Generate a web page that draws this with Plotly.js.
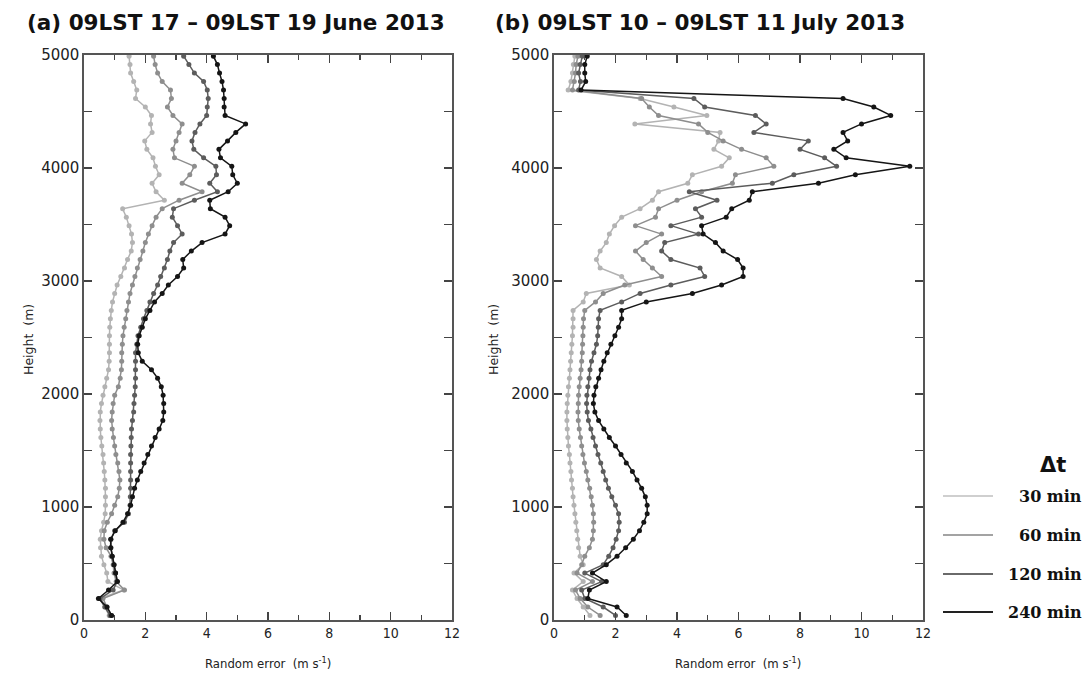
<!DOCTYPE html>
<html>
<head>
<meta charset="utf-8">
<script src="https://cdn.plot.ly/plotly-3.0.1.min.js"></script>
<style>html,body{margin:0;padding:0;background:#fff;} #chart{width:1091px;height:676px;}</style>
</head>
<body>
<div id="chart"></div>
<script>
// Heights (m), from top to bottom
const heights = [4990,4915,4840,4765,4690,4615,4540,4465,4390,4315,4240,4165,4090,4015,3940,3865,3790,3715,3640,3565,3490,3415,3340,3265,3190,3115,3040,2965,2890,2815,2740,2665,2590,2515,2440,2365,2290,2215,2140,2065,1990,1915,1840,1765,1690,1615,1540,1465,1390,1315,1240,1165,1090,1015,940,865,790,715,640,565,490,415,340,265,190,115,40];

// Panel (a): 09LST 17 - 09LST 19 June 2013, random error (m/s)
const a30 = [1.47,1.5,1.52,1.62,1.72,1.68,2.0,2.2,2.17,2.22,1.98,2.05,2.25,2.33,2.45,2.22,2.35,2.62,1.26,1.38,1.47,1.55,1.58,1.54,1.42,1.32,1.2,1.08,1.0,0.93,0.89,0.86,0.84,0.83,0.83,0.83,0.82,0.8,0.74,0.68,0.62,0.57,0.53,0.52,0.53,0.55,0.58,0.62,0.64,0.66,0.68,0.7,0.7,0.7,0.69,0.64,0.57,0.53,0.54,0.57,0.65,0.74,0.78,1.3,0.5,0.68,0.82];
const a60 = [2.27,2.32,2.4,2.55,2.82,2.85,2.72,2.9,3.2,3.1,3.0,2.9,2.95,3.6,3.45,3.2,3.85,3.1,2.55,2.35,2.22,2.1,2.0,1.92,1.83,1.74,1.66,1.58,1.5,1.45,1.4,1.36,1.31,1.27,1.25,1.23,1.23,1.22,1.18,1.12,1.0,0.95,0.92,0.9,0.92,0.96,1.0,1.04,1.1,1.14,1.17,1.15,1.1,1.0,0.9,0.76,0.66,0.65,0.72,0.88,0.95,0.98,1.05,1.32,0.62,0.75,0.9];
const a120 = [3.25,3.42,3.6,3.9,4.02,4.05,4.02,4.0,3.78,3.62,3.52,3.58,3.9,4.3,4.32,4.1,4.35,3.6,2.92,2.88,3.05,3.2,2.92,2.8,2.72,2.62,2.5,2.4,2.27,2.15,2.05,1.94,1.85,1.76,1.72,1.68,1.68,1.68,1.68,1.67,1.65,1.63,1.62,1.58,1.55,1.54,1.53,1.52,1.52,1.52,1.52,1.52,1.51,1.5,1.45,1.32,1.0,0.88,0.88,0.92,0.98,1.03,1.08,0.95,0.52,0.68,0.85];
const a240 = [4.22,4.35,4.42,4.5,4.55,4.57,4.57,4.6,5.27,4.95,4.68,4.4,4.45,4.82,4.85,5.0,4.7,4.1,4.12,4.6,4.75,4.6,3.85,3.5,3.22,3.25,3.05,2.75,2.55,2.3,2.15,2.0,1.9,1.8,1.75,1.77,1.9,2.2,2.4,2.52,2.58,2.6,2.6,2.57,2.45,2.32,2.2,2.08,1.96,1.85,1.74,1.65,1.58,1.52,1.42,1.27,1.02,0.87,0.87,0.92,0.98,1.03,1.09,0.8,0.47,0.75,0.9];

// Panel (b): 09LST 10 - 09LST 11 July 2013
const b30 = [0.68,0.63,0.6,0.55,0.46,2.8,3.9,4.97,2.63,5.4,5.35,5.2,5.7,5.45,4.5,4.35,3.4,3.2,2.8,2.2,1.97,1.8,1.7,1.5,1.38,1.5,2.2,2.45,1.05,0.95,0.62,0.62,0.62,0.6,0.58,0.56,0.54,0.52,0.5,0.47,0.45,0.43,0.42,0.42,0.43,0.45,0.47,0.5,0.52,0.55,0.57,0.6,0.62,0.65,0.68,0.71,0.74,0.77,0.8,0.85,0.95,0.65,0.95,0.6,0.75,0.95,1.17];
const b60 = [0.78,0.72,0.7,0.66,0.6,2.85,3.1,3.4,4.7,5.0,5.5,6.1,6.9,7.15,5.9,5.8,4.8,4.0,3.4,3.3,2.65,3.5,3.0,2.65,2.9,3.2,3.5,2.3,1.6,1.35,1.0,0.96,0.95,0.94,0.93,0.92,0.9,0.88,0.85,0.82,0.8,0.79,0.78,0.79,0.82,0.86,0.9,0.94,0.99,1.05,1.1,1.16,1.21,1.25,1.28,1.29,1.28,1.25,1.15,1.0,0.9,0.75,1.25,0.7,0.85,1.1,1.5];
const b120 = [0.92,0.85,0.8,0.86,0.8,4.55,4.9,6.55,6.9,6.5,8.27,8.0,8.8,9.19,7.8,7.1,4.4,5.3,4.6,4.8,3.8,4.7,3.6,3.5,3.8,4.75,4.9,3.8,2.8,2.2,1.5,1.45,1.44,1.42,1.38,1.3,1.22,1.17,1.14,1.1,1.07,1.06,1.08,1.12,1.2,1.27,1.35,1.43,1.52,1.6,1.68,1.77,1.88,2.0,2.1,2.12,2.1,2.02,1.92,1.78,1.6,1.0,1.55,0.9,1.0,1.6,2.0];
const b240 = [1.08,1.0,1.0,1.03,0.88,9.4,10.4,10.95,10.0,9.4,9.55,9.1,9.5,11.57,9.8,8.6,6.45,6.35,5.78,5.6,4.8,4.85,5.25,5.5,5.97,6.15,6.15,5.45,4.5,3.0,2.2,2.2,2.1,1.98,1.85,1.73,1.62,1.53,1.45,1.36,1.3,1.28,1.33,1.45,1.62,1.8,2.0,2.18,2.35,2.55,2.7,2.85,2.97,3.03,3.03,2.92,2.78,2.58,2.33,2.05,1.7,1.25,1.7,1.15,1.1,2.05,2.35];

const seriesNames = ['30 min','60 min','120 min','240 min'];
const panelA = [a30, a60, a120, a240];
const panelB = [b30, b60, b120, b240];
const panelTitles = ['(a) 09LST 17 \u2013 09LST 19 June 2013', '(b) 09LST 10 \u2013 09LST 11 July 2013'];
const xTitle = 'Random error  (m s<sup>-1</sup>)';
const yTitle = 'Height  (m)';
const legendTitle = '\u0394t';

// styles
const colors = ['#b3b3b3','#8e8e8e','#5c5c5c','#151515'];
const legendColors = ['#cfcfcf','#a3a3a3','#6a6a6a','#222222'];

const W = 1091, Hh = 676;
const px = v => v / W;
const py = v => 1 - v / Hh;

const traces = [];
[panelA, panelB].forEach((panel, p) => {
  panel.forEach((vals, i) => {
    traces.push({
      type: 'scatter',
      mode: 'lines+markers',
      x: vals,
      y: heights,
      xaxis: p === 0 ? 'x' : 'x2',
      yaxis: p === 0 ? 'y' : 'y2',
      name: seriesNames[i],
      showlegend: false,
      line: {color: colors[i], width: 1.5},
      marker: {color: colors[i], size: 5, symbol: 'circle'}
    });
  });
});

const tickFontY = {family: 'DejaVu Sans, sans-serif', size: 15, color: '#222'};
const tickFontX = {family: 'DejaVu Sans Condensed, Liberation Sans, sans-serif', size: 14, color: '#222'};

function xAxis(dom, anchor) {
  return {
    domain: dom, anchor: anchor, range: [0, 12], tick0: 0, dtick: 2,
    ticks: 'inside', ticklen: 8, tickwidth: 1.3, tickcolor: '#444',
    minor: {dtick: 1, ticks: 'inside', ticklen: 5, tickwidth: 1.2, tickcolor: '#444'},
    mirror: 'ticks', showline: true, linecolor: '#555', linewidth: 1.6,
    showgrid: false, zeroline: false, tickfont: tickFontX, fixedrange: true
  };
}
function yAxis(dom, anchor) {
  return {
    domain: dom, anchor: anchor, range: [0, 5000], tick0: 0, dtick: 1000,
    ticks: 'inside', ticklen: 8, tickwidth: 1.3, tickcolor: '#444',
    minor: {dtick: 500, ticks: 'inside', ticklen: 8, tickwidth: 1.2, tickcolor: '#444'},
    mirror: 'ticks', showline: true, linecolor: '#555', linewidth: 1.6,
    showgrid: false, zeroline: false, tickfont: tickFontY, fixedrange: true
  };
}

const yDom = [py(620), py(55)];
const layout = {
  width: W, height: Hh, autosize: false,
  margin: {l: 0, r: 0, t: 0, b: 0},
  paper_bgcolor: '#fff', plot_bgcolor: '#fff',
  showlegend: false,
  xaxis: xAxis([px(84), px(452)], 'y'),
  yaxis: yAxis(yDom, 'x'),
  xaxis2: xAxis([px(554), px(923)], 'y2'),
  yaxis2: yAxis(yDom, 'x2'),
  shapes: [],
  annotations: []
};

const titleFont = {family: 'DejaVu Sans, sans-serif', size: 21.5, color: '#111'};
layout.annotations.push({xref:'paper', yref:'paper', x: px(25), y: py(22), xanchor:'left', yanchor:'middle', text: '<b>' + panelTitles[0] + '</b>', showarrow:false, font: titleFont});
layout.annotations.push({xref:'paper', yref:'paper', x: px(493), y: py(22), xanchor:'left', yanchor:'middle', text: '<b>' + panelTitles[1] + '</b>', showarrow:false, font: titleFont});

const axTitleFont = {family: 'DejaVu Sans, sans-serif', size: 12.5, color: '#222'};
[28, 493].forEach(x => {
  layout.annotations.push({xref:'paper', yref:'paper', x: px(x), y: py(340), xanchor:'center', yanchor:'middle', textangle: -90, text: yTitle, showarrow:false, font: axTitleFont});
});
const xTitleFont = {family: 'DejaVu Sans Condensed, Liberation Sans, sans-serif', size: 13, color: '#222'};
[268, 738].forEach(x => {
  layout.annotations.push({xref:'paper', yref:'paper', x: px(x), y: py(663), xanchor:'center', yanchor:'middle', text: xTitle, showarrow:false, font: xTitleFont});
});

// legend
const legFont = {family: 'DejaVu Serif, serif', size: 16, color: '#111'};
layout.annotations.push({xref:'paper', yref:'paper', x: px(1053), y: py(465), xanchor:'center', yanchor:'middle', text: '<b>' + legendTitle + '</b>', showarrow:false, font: {family: 'DejaVu Sans, sans-serif', size: 21, color: '#111'}});
const legY = [496, 535, 574, 612];
seriesNames.forEach((n, i) => {
  layout.shapes.push({type:'line', xref:'paper', yref:'paper', x0: px(943), x1: px(993), y0: py(legY[i]), y1: py(legY[i]), line: {color: legendColors[i], width: 2.2}});
  layout.annotations.push({xref:'paper', yref:'paper', x: px(1084), y: py(legY[i]), xanchor:'right', yanchor:'middle', text: '<b>' + n + '</b>', showarrow:false, font: legFont});
});

Plotly.newPlot('chart', traces, layout, {displayModeBar: false, staticPlot: true});
</script>
</body>
</html>
